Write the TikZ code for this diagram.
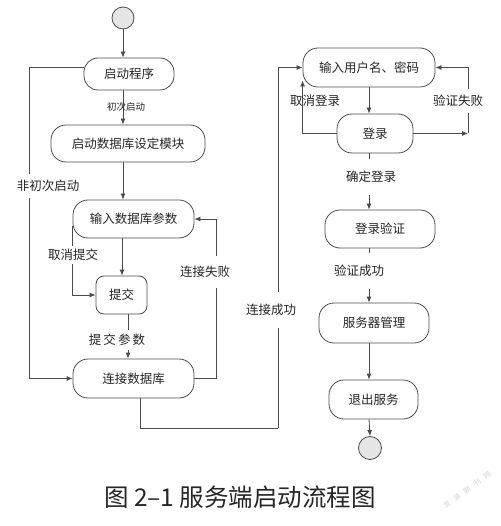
\documentclass[tikz,border=0pt]{standalone}
\usepackage{fontspec}
\setmainfont{Noto Sans CJK SC}
\usetikzlibrary{arrows.meta}
\begin{document}
\begin{tikzpicture}[x=1pt,y=-1pt,
  box/.style={draw=black!70, line width=0.8pt, rounded corners=15pt, inner sep=0pt,
    font=\fontsize{12.5}{14}\selectfont, text=black!85},
  endpt/.style={circle, draw=black!70, line width=0.8pt, fill=black!10, inner sep=0pt, minimum size=22pt},
  line/.style={draw=black!70, line width=0.8pt},
  arr/.style={line, -{Latex[length=6pt,width=5pt]}},
  lab/.style={font=\fontsize{12.5}{14}\selectfont, text=black!85, inner sep=1pt},
  labw/.style={lab, fill=white, inner xsep=1pt, inner ysep=6pt},
  wmk/.style={font=\fontsize{7}{8}\selectfont, text=black!18, rotate=36, inner sep=0pt}
]
\useasboundingbox (0,0) rectangle (500,526);

% left column
\node[endpt] (st) at (123,18) {};
\node[box, minimum width=90pt, minimum height=32pt, rounded corners=14pt] (p1) at (129,74) {启动程序};
\node[box, minimum width=154pt, minimum height=37pt] (p2) at (128,143.5) {启动数据库设定模块};
\node[box, minimum width=121pt, minimum height=38pt] (p3) at (133.5,219) {输入数据库参数};
\node[box, minimum width=51pt, minimum height=38pt, rounded corners=8pt] (p4) at (121.5,295) {提交};
\node[box, minimum width=121pt, minimum height=39pt] (p5) at (133.5,378.5) {连接数据库};

% right column
\node[box, minimum width=132pt, minimum height=39pt] (p6) at (369,67.5) {输入用户名、密码};
\node[box, minimum width=76pt, minimum height=39pt] (p7) at (375,133.5) {登录};
\node[box, minimum width=110pt, minimum height=38pt] (p8) at (380,229) {登录验证};
\node[box, minimum width=110pt, minimum height=40pt] (p9) at (374,323) {服务器管理\hspace{20pt}};
\node[box, minimum width=89pt, minimum height=39pt] (p10) at (373.5,399.5) {退出服务};
\node[endpt, minimum size=23pt] (en) at (370,448) {};

\coordinate (c1) at (278,428);
\coordinate (c2) at (468,133.5);

% left connectors
\draw[arr] (st.south) -- (st.south |- p1.north);
\draw[arr] (st.south |- p1.south) -- (st.south |- p2.north);
\draw[arr] (st.south |- p2.south) -- (st.south |- p3.north);
\draw[line] ([yshift=7pt]p1.west) -- ++(-54,0) coordinate (c0);
\draw[arr] (c0) |- (p5.west);
\draw[arr] ([yshift=-7pt]p3.west) |- (p4.west);
\draw[arr] ([xshift=-11.5pt]p3.south) -- ([xshift=-11.5pt]p3.south |- p4.north);
\draw[arr] ([xshift=6.5pt]p4.south) -- ([xshift=6.5pt]p4.south |- p5.north);
\draw[line] (p5.east) -- ++(22,0) coordinate (c3);
\draw[arr] (c3) |- (p3.east);
\draw[line] ([xshift=6.5pt]p5.south) |- (c1);
\draw[arr] (c1) |- (p6.west);

% right connectors
\draw[arr] (p6.south) -- (p6.south |- p7.north);
\draw[arr] (p7.west) -| ([yshift=-13pt]p6.west);
\draw[arr] (p7.east) -- (c2);
\draw[arr] (c2) |- (p6.east);
\draw[arr] (p6.south |- p7.south) -- (p6.south |- p8.north);
\draw[arr] (p6.south |- p8.south) -- (p6.south |- p9.north);
\draw[arr] (p6.south |- p9.south) -- (p6.south |- p10.north);
\draw[arr] (p6.south |- p10.south) -- (en.north);

% labels
\node[lab, font=\fontsize{9.5}{11}\selectfont] (l1) at (126,107) {初次启动};
\node[labw] (l2) at (48,186) {非初次启动};
\node[labw, inner ysep=3pt] (l3) at (73,255) {取消提交};
\node[labw, inner ysep=4pt] (l4) at (117,340) {提\,交\,参\,数};
\node[labw, inner ysep=10pt] (l5) at (205,272) {连接失败};
\node[labw, inner ysep=12pt] (l6) at (271,310) {连接成功};
\node[lab] (l7) at (315,101) {取消登录};
\node[labw, inner ysep=6pt] (l8) at (458,101) {验证失败};
\node[labw, inner ysep=12pt] (l9) at (371,177) {确定登录};
\node[labw, inner ysep=12pt] (l10) at (359,271) {验证成功};

% caption
\node[font=\fontsize{24.5}{27}\selectfont, text=black!85, inner sep=0pt] (cap) at (240,497) {图 2–1 服务端启动流程图};

% watermark
\node[wmk] (w1) at (446.8,504.7) {龙};
\node[wmk] (w2) at (456.9,497.4) {源};
\node[wmk] (w3) at (467,490) {期};
\node[wmk] (w4) at (477.1,482.6) {刊};
\node[wmk] (w5) at (487.2,475.3) {网};
\end{tikzpicture}
\end{document}
